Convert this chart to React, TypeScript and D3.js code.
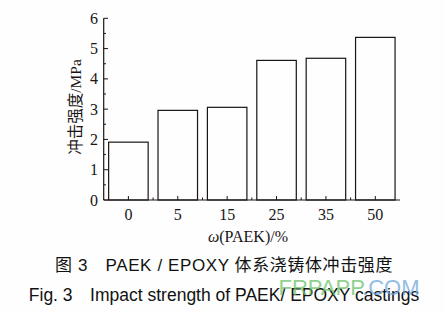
import React from "react";
import * as d3 from "d3";

const categories = ["0", "5", "15", "25", "35", "50"];
const strength = [1.91, 2.96, 3.06, 4.61, 4.68, 5.37];
const yTicks = [0, 1, 2, 3, 4, 5, 6];
const yMinor = [0.5, 1.5, 2.5, 3.5, 4.5, 5.5];

const W = 445;
const H = 314;
const serif = "'Liberation Serif', 'Times New Roman', 'Noto Sans CJK SC', serif";
const sans = "'Liberation Sans', Arial, 'Noto Sans CJK SC', sans-serif";

const App: React.FC = () => {
  const x = d3
    .scaleBand()
    .domain(categories)
    .range([103.7, 400])
    .paddingInner(0.2)
    .paddingOuter(0.1);
  const y = d3.scaleLinear().domain([0, 6]).range([200, 18.3]);
  const step = x.step();

  return (
    <svg
      width={W}
      height={H}
      style={{ position: "absolute", left: 0, top: 0, background: "#fdfefd" }}
    >
      {/* bars */}
      {categories.map((c, i) => (
        <rect
          key={c}
          x={x(c)}
          y={y(strength[i])}
          width={x.bandwidth()}
          height={y(0) - y(strength[i])}
          fill="none"
          stroke="#1a1416"
          strokeWidth={1.2}
        />
      ))}

      {/* axes */}
      <line x1={103.7} x2={103.7} y1={y(6)} y2={y(0)} stroke="#1a1416" strokeWidth={1.2} />
      <line x1={103.7} x2={400} y1={y(0)} y2={y(0)} stroke="#1a1416" strokeWidth={1.2} />

      {yTicks.map((t) => (
        <g key={t}>
          <line x1={103.7} x2={108} y1={y(t)} y2={y(t)} stroke="#1a1416" />
          <text
            x={98}
            y={y(t)}
            textAnchor="end"
            dominantBaseline="central"
            fontFamily={serif}
            fontSize={16}
            fill="#1a1416"
          >
            {t}
          </text>
        </g>
      ))}
      {yMinor.map((t) => (
        <line key={t} x1={103.7} x2={106} y1={y(t)} y2={y(t)} stroke="#1a1416" />
      ))}

      {categories.map((c, i) => {
        const cx = (x(c) as number) + x.bandwidth() / 2;
        return (
          <g key={c}>
            <line x1={cx} x2={cx} y1={y(0)} y2={y(0) - 4} stroke="#1a1416" />
            {i < categories.length - 1 && (
              <line
                x1={cx + step / 2}
                x2={cx + step / 2}
                y1={y(0)}
                y2={y(0) - 2.5}
                stroke="#1a1416"
              />
            )}
            <text
              x={cx}
              y={214}
              textAnchor="middle"
              dominantBaseline="central"
              fontFamily={serif}
              fontSize={16}
              fill="#1a1416"
            >
              {c}
            </text>
          </g>
        );
      })}

      {/* axis titles */}
      <text
        x={248}
        y={236}
        textAnchor="middle"
        dominantBaseline="central"
        fontFamily={serif}
        fontSize={16}
        fill="#1a1416"
      >
        <tspan fontStyle="italic">ω</tspan>(PAEK)/%
      </text>
      <text
        transform={`translate(75,107) rotate(-90)`}
        textAnchor="middle"
        dominantBaseline="central"
        fontFamily={serif}
        fontSize={15.5}
        fill="#1a1416"
      >
        冲击强度/MPa
      </text>

      {/* captions */}
      <text
        x={224}
        y={265}
        textAnchor="middle"
        dominantBaseline="central"
        fontFamily={sans}
        fontSize={17}
        letterSpacing={0.6}
        fill="#111"
      >
        图 3{"\u2003"}PAEK / EPOXY 体系浇铸体冲击强度
      </text>
      <text
        x={224}
        y={295}
        textAnchor="middle"
        dominantBaseline="central"
        fontFamily={sans}
        fontSize={17.5}
        fill="#111"
      >
        Fig. 3{"\u2003"}Impact strength of PAEK/ EPOXY castings
      </text>

      {/* watermark */}
      <text
        x={349}
        y={287}
        textAnchor="middle"
        dominantBaseline="central"
        fontFamily={sans}
        fontSize={22}
        opacity={0.75}
      >
        <tspan fill="#6cc36a">FRPAPP</tspan>
        <tspan fill="#6fa8de">.COM</tspan>
      </text>
    </svg>
  );
};

export default App;
